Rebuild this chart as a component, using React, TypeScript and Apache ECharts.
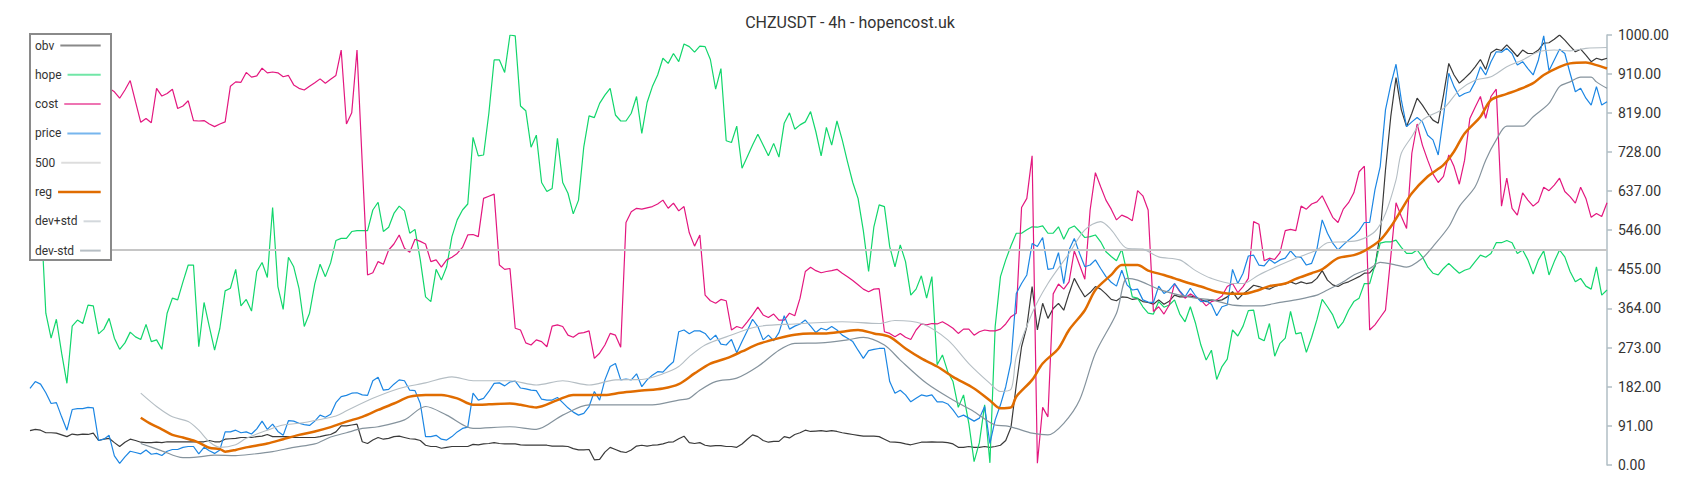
import React, { useEffect, useRef } from "react";
import * as echarts from "echarts";

const TITLE = "CHZUSDT - 4h - hopencost.uk";
const Y_MIN = 0;
const Y_MAX = 1000;
const Y_STEP = 91;
const X_LAST = 299;

const OBV = [
  80, 83, 81, 75, 75, 74, 70, 66, 72, 70,
  72, 71, 74, 57, 60, 62, 52, 43, 53, 60,
  57, 53, 52, 52, 53, 52, 54, 54, 54, 54,
  54, 54, 54, 54, 57, 54, 54, 60, 61, 62,
  64, 64, 64, 66, 67, 71, 66, 66, 66, 66,
  64, 64, 64, 64, 64, 66, 69, 71, 77, 91,
  91, 93, 95, 54, 50, 58, 64, 60, 62, 66,
  67, 64, 61, 60, 57, 46, 43, 43, 39, 41,
  43, 43, 43, 43, 48, 47, 49, 50, 52, 50,
  49, 49, 49, 47, 46, 46, 46, 46, 46, 44,
  44, 44, 43, 38, 35, 35, 36, 12, 13, 30,
  41, 36, 31, 29, 35, 44, 46, 44, 46, 47,
  49, 53, 54, 61, 67, 52, 50, 52, 46, 44,
  45, 45, 43, 43, 41, 49, 60, 70, 66, 57,
  53, 55, 55, 66, 63, 71, 75, 81, 78, 79,
  80, 78, 80, 78, 75, 73, 71, 69, 67, 67,
  67, 66, 60, 54, 53, 52, 49, 47, 50, 53,
  53, 54, 53, 53, 52, 49, 41, 41, 43, 41,
  41, 43, 41, 43, 46, 57, 88, 186, 275, 322,
  415, 314, 376, 341, 364, 376, 360, 399, 434, 411,
  391, 401, 415, 409, 398, 385, 382, 391, 390, 385,
  387, 380, 378, 374, 384, 374, 381, 395, 391, 391,
  393, 390, 385, 380, 384, 382, 384, 391, 403, 385,
  398, 407, 418, 415, 411, 409, 415, 419, 421, 426,
  421, 426, 422, 424, 434, 452, 430, 419, 415, 422,
  426, 432, 438, 446, 447, 461, 539, 686, 810, 901,
  826, 787, 818, 853, 837, 818, 802, 795, 860, 934,
  907, 888, 899, 911, 926, 943, 920, 959, 967, 964,
  977, 964, 950, 965, 957, 957, 965, 981, 982, 990,
  1000, 988, 974, 961, 967, 953, 938, 946, 942, 946,
];

const HOPE = [
  540, 580, 600, 353, 295, 339, 260, 190, 323, 337,
  329, 372, 370, 305, 316, 341, 295, 269, 284, 309,
  298, 292, 327, 287, 291, 269, 353, 388, 384, 426,
  465, 465, 275, 378, 322, 267, 318, 405, 411, 455,
  370, 385, 358, 450, 471, 436, 599, 415, 362, 483,
  461, 411, 322, 353, 422, 467, 438, 470, 522, 527,
  527, 543, 545, 545, 545, 593, 611, 543, 553, 585,
  602, 591, 539, 548, 477, 391, 380, 455, 430, 461,
  531, 570, 593, 607, 762, 719, 721, 818, 942, 942,
  913, 1000, 998, 835, 824, 739, 767, 657, 636, 643,
  760, 657, 632, 584, 616, 740, 812, 808, 841, 860,
  876, 814, 800, 800, 818, 857, 771, 843, 880, 907,
  946, 934, 957, 938, 979, 973, 960, 974, 973, 943,
  874, 922, 754, 750, 788, 690, 717, 744, 769, 744,
  719, 748, 716, 795, 819, 781, 791, 798, 822, 775,
  719, 785, 744, 800, 756, 705, 657, 620, 545, 450,
  554, 605, 601, 508, 461, 512, 473, 395, 409, 440,
  388, 438, 233, 256, 217, 194, 134, 163, 97, 8,
  52, 140, 5, 322, 438, 477, 510, 539, 539, 547,
  554, 553, 556, 539, 539, 554, 525, 550, 556, 543,
  529, 531, 535, 519, 496, 485, 475, 502, 446, 391,
  388, 368, 353, 351, 380, 367, 372, 384, 351, 333,
  368, 329, 279, 244, 267, 199, 229, 246, 314, 300,
  323, 359, 360, 295, 289, 329, 253, 283, 295, 357,
  305, 308, 262, 297, 338, 385, 368, 349, 318, 333,
  360, 380, 388, 422, 422, 465, 516, 519, 519, 523,
  506, 492, 492, 500, 484, 461, 446, 442, 457, 469,
  457, 446, 453, 457, 473, 488, 483, 492, 517, 517,
  522, 517, 492, 500, 477, 444, 477, 498, 442, 473,
  500, 484, 450, 426, 434, 416, 409, 461, 395, 407,
];

const COST = [
  860, 872, 880, 890, 875, 865, 880, 895, 885, 878,
  870, 882, 890, 884, 880, 876, 868, 853, 872, 894,
  845, 797, 806, 796, 876, 858, 864, 874, 829, 835,
  847, 801, 800, 801, 793, 787, 793, 798, 881, 891,
  890, 913, 902, 905, 923, 912, 914, 912, 903, 906,
  884, 876, 872, 881, 889, 898, 888, 897, 906, 965,
  793, 819, 965, 700, 442, 447, 473, 467, 500, 514,
  535, 504, 495, 525, 520, 514, 473, 477, 460, 477,
  483, 492, 506, 535, 536, 531, 620, 625, 630, 465,
  455, 457, 318, 314, 284, 279, 291, 287, 275, 323,
  326, 322, 302, 297, 306, 308, 312, 248, 260, 279,
  306, 302, 274, 564, 589, 597, 595, 598, 601, 607,
  616, 597, 609, 591, 601, 540, 509, 535, 395, 382,
  376, 385, 382, 314, 322, 318, 333, 349, 367, 349,
  343, 351, 337, 337, 353, 347, 388, 450, 460, 452,
  447, 450, 452, 455, 446, 438, 429, 419, 409, 403,
  409, 410, 310, 306, 298, 306, 297, 292, 314, 328,
  326, 329, 328, 333, 326, 318, 306, 316, 316, 302,
  310, 314, 312, 312, 316, 328, 345, 353, 599, 620,
  719, 4, 134, 112, 398, 421, 409, 426, 498, 465,
  432, 593, 680, 647, 616, 595, 570, 581, 576, 568,
  638, 626, 593, 357, 368, 351, 372, 422, 403, 388,
  398, 390, 384, 370, 380, 384, 393, 415, 422, 401,
  415, 434, 566, 560, 475, 481, 478, 494, 545, 548,
  545, 602, 595, 607, 612, 626, 601, 576, 564, 595,
  610, 633, 682, 695, 314, 326, 343, 360, 484, 610,
  578, 550, 725, 793, 744, 709, 677, 657, 671, 721,
  694, 653, 709, 806, 832, 857, 806, 857, 874, 602,
  667, 597, 581, 633, 616, 602, 612, 646, 638, 651,
  667, 636, 624, 609, 646, 620, 576, 585, 578, 610,
];

const PRICE = [
  178, 194, 188, 168, 143, 145, 112, 81, 129, 131,
  131, 134, 133, 57, 60, 69, 21, 4, 19, 32,
  29, 26, 35, 25, 27, 22, 32, 36, 36, 41,
  43, 43, 26, 41, 33, 27, 35, 77, 77, 81,
  75, 77, 72, 84, 102, 83, 95, 78, 69, 103,
  102, 97, 94, 92, 102, 116, 111, 118, 145, 159,
  162, 167, 168, 163, 162, 196, 204, 174, 176, 188,
  198, 196, 174, 173, 143, 66, 66, 69, 60, 58,
  66, 77, 85, 88, 167, 151, 155, 171, 190, 191,
  184, 193, 195, 179, 177, 174, 173, 153, 151, 151,
  157, 145, 133, 123, 116, 120, 136, 171, 151, 198,
  229, 236, 198, 200, 198, 212, 182, 198, 209, 217,
  216, 229, 240, 310, 314, 305, 312, 312, 306, 291,
  302, 281, 279, 292, 261, 287, 312, 339, 322, 291,
  302, 289, 308, 347, 316, 323, 328, 337, 323, 308,
  318, 314, 322, 314, 302, 295, 287, 267, 248, 266,
  269, 271, 271, 194, 167, 174, 163, 147, 155, 163,
  160, 163, 147, 147, 142, 128, 111, 116, 109, 102,
  109, 136, 50, 105, 140, 182, 240, 399, 422, 442,
  515, 508, 529, 455, 457, 494, 422, 500, 527, 492,
  461, 465, 477, 457, 438, 425, 416, 453, 419, 407,
  409, 384, 379, 378, 416, 399, 407, 422, 405, 391,
  411, 393, 380, 382, 374, 347, 368, 372, 455, 422,
  446, 486, 488, 465, 463, 478, 469, 477, 481, 498,
  484, 483, 465, 469, 502, 570, 539, 516, 500, 512,
  523, 533, 545, 564, 564, 640, 694, 826, 884, 932,
  849, 787, 798, 808, 798, 767, 756, 721, 810, 911,
  880, 857, 864, 868, 891, 926, 907, 938, 961, 960,
  969, 957, 930, 938, 922, 907, 942, 998, 917, 942,
  967, 957, 911, 868, 876, 853, 837, 880, 837, 845,
];

const LEVEL_500 = 500;

// [bar index, value] readings of the smooth regression line and its bands
const REG = [
  [21, 110], [23, 95], [25, 83], [27, 70], [29, 64], [31, 57], [32, 52], [34, 40], [36, 37], [37, 31],
  [39, 35], [41, 41], [45, 50], [48, 60], [51, 70], [54, 78], [57, 88], [60, 101], [63, 112], [66, 128],
  [69, 143], [72, 159], [75, 163], [78, 163], [81, 155], [84, 140], [87, 141], [91, 143], [93, 140], [96, 134],
  [100, 151], [103, 163], [107, 163], [109, 163], [112, 168], [116, 173], [120, 178], [123, 188], [126, 213], [129, 236],
  [132, 248], [135, 264], [138, 281], [142, 295], [145, 303], [148, 306], [151, 306], [154, 310], [157, 314], [160, 306],
  [163, 298], [166, 271], [169, 248], [172, 229], [175, 205], [179, 178], [182, 150], [184, 132], [186, 134], [187, 159],
  [190, 198], [192, 236], [195, 271], [197, 314], [200, 360], [202, 407], [205, 442], [207, 465], [210, 465], [212, 452],
  [215, 442], [217, 434], [220, 422], [222, 415], [225, 403], [227, 399], [230, 398], [233, 407], [235, 416], [238, 422],
  [240, 433], [243, 446], [245, 455], [248, 481], [251, 488], [253, 498], [256, 523], [258, 554], [260, 593], [262, 632],
  [265, 671], [268, 698], [270, 729], [272, 771], [275, 810], [277, 849], [280, 863], [282, 872], [285, 888], [287, 907],
  [290, 926], [292, 934], [295, 936], [297, 930], [299, 922],
];

const DEV_PLUS = [
  [21, 167], [24, 136], [27, 112], [30, 101], [32, 81], [34, 54], [36, 41], [39, 47], [41, 62], [45, 81],
  [48, 93], [51, 97], [55, 106], [58, 114], [60, 126], [65, 155], [70, 178], [75, 191], [80, 205], [84, 196],
  [91, 196], [96, 186], [101, 196], [106, 186], [111, 198], [116, 199], [120, 212], [123, 229], [125, 252], [128, 279],
  [132, 298], [138, 322], [145, 328], [154, 333], [161, 329], [164, 336], [169, 329], [174, 291], [178, 236], [182, 190],
  [184, 171], [186, 176], [187, 252], [190, 353], [193, 422], [197, 492], [200, 547], [203, 566], [205, 547], [208, 504],
  [211, 502], [214, 484], [218, 477], [221, 452], [224, 434], [228, 422], [230, 422], [233, 442], [237, 465], [240, 481],
  [244, 500], [246, 517], [249, 519], [252, 523], [255, 543], [257, 585], [259, 663], [260, 725], [262, 764], [264, 802],
  [268, 829], [271, 872], [274, 895], [277, 903], [280, 926], [283, 942], [286, 961], [289, 965], [292, 963], [295, 969],
  [299, 971],
];

const DEV_MINUS = [
  [21, 50], [25, 33], [29, 17], [32, 19], [35, 23], [39, 22], [42, 25], [46, 31], [50, 41], [54, 49],
  [57, 65], [60, 75], [63, 85], [66, 89], [71, 105], [75, 136], [79, 116], [84, 85], [91, 89], [96, 83],
  [101, 116], [106, 140], [113, 140], [118, 140], [123, 151], [125, 155], [127, 174], [130, 194], [134, 202], [138, 229],
  [142, 267], [145, 283], [150, 284], [155, 291], [158, 297], [162, 279], [165, 244], [170, 190], [175, 151], [179, 124],
  [183, 93], [185, 91], [187, 85], [190, 74], [193, 70], [196, 97], [199, 151], [202, 260], [206, 353], [208, 434],
  [210, 430], [214, 409], [218, 395], [221, 388], [224, 384], [228, 372], [233, 370], [237, 378], [240, 384], [244, 395],
  [246, 407], [249, 426], [251, 442], [254, 457], [256, 471], [259, 465], [261, 460], [264, 481], [266, 508], [269, 554],
  [271, 601], [274, 647], [276, 709], [278, 756], [280, 788], [283, 788], [285, 810], [288, 841], [290, 880], [292, 891],
  [294, 902], [296, 902], [297, 891], [299, 876],
];

const NAMES = ["obv", "hope", "cost", "price", "500", "reg", "dev+std", "dev-std"];
const COLORS = ["#3a3a3a", "#12d66c", "#e3177f", "#1c86e3", "#c6c6c6", "#e06c00", "#b5bec4", "#85939d"];
const WIDTHS = [1.2, 1.2, 1.2, 1.2, 1.8, 2.5, 1.1, 1.2];

const FONT = "Roboto, 'Noto Sans', sans-serif";

function measure(text: string, font: string): number {
  const c = document.createElement("canvas").getContext("2d");
  if (!c) return text.length * 6.5;
  c.font = font;
  return c.measureText(text).width;
}

export default function App() {
  const ref = useRef<HTMLDivElement | null>(null);

  useEffect(() => {
    if (!ref.current) return;
    const chart = echarts.init(ref.current, undefined, { renderer: "svg" });

    const toPairs = (arr: number[]) => arr.map((v, i) => [i, v]);
    const datasets: any[] = [
      toPairs(OBV),
      toPairs(HOPE),
      toPairs(COST),
      toPairs(PRICE),
      [[0, LEVEL_500], [X_LAST, LEVEL_500]],
      REG,
      DEV_PLUS,
      DEV_MINUS,
    ];

    const series = NAMES.map((name, k) => ({
      name,
      type: "line",
      data: datasets[k],
      showSymbol: false,
      symbol: "none",
      silent: true,
      smooth: k >= 5 ? 0.3 : false,
      lineStyle: { color: COLORS[k], width: WIDTHS[k] },
      itemStyle: { color: COLORS[k] },
      z: 2 + k,
    }));

    // legend box drawn as graphics
    const legendFont = `12px ${FONT}`;
    const boxW = 81;
    const boxH = 226;
    const iconEnd = 70.7;
    const children: any[] = [
      {
        type: "rect",
        z: 100,
        shape: { x: 0, y: 0, width: boxW, height: boxH },
        style: { fill: "#ffffff", stroke: "#8a8a8a", lineWidth: 2 },
      },
    ];
    NAMES.forEach((name, k) => {
      const cy = 11.5 + 29.3 * k;
      const tw = measure(name, "12px Roboto");
      children.push({
        type: "text",
        z: 101,
        x: 5,
        y: cy,
        style: {
          text: name,
          fill: "#333333",
          font: legendFont,
          verticalAlign: "middle",
          textVerticalAlign: "middle",
        },
      });
      children.push({
        type: "line",
        z: 101,
        shape: { x1: 5 + tw + 6, y1: cy, x2: iconEnd, y2: cy },
        style: {
          stroke: COLORS[k],
          lineWidth: k === 5 ? 2.5 : 2,
          opacity: k === 5 ? 1 : 0.6,
        },
      });
    });

    chart.setOption({
      animation: false,
      backgroundColor: "#ffffff",
      title: {
        text: TITLE,
        left: "center",
        top: 9,
        textStyle: { fontFamily: FONT, fontSize: 16, fontWeight: "normal", color: "#333333" },
      },
      grid: { left: 30, right: 93, top: 35, bottom: 35, containLabel: false },
      xAxis: {
        type: "value",
        min: 0,
        max: X_LAST,
        show: false,
        axisLine: { show: false, onZero: false },
        axisTick: { show: false },
        axisLabel: { show: false },
        splitLine: { show: false },
      },
      yAxis: {
        type: "value",
        position: "right",
        min: Y_MIN,
        max: Y_MAX,
        interval: Y_STEP,
        splitLine: { show: false },
        axisLine: { show: true, onZero: false, lineStyle: { color: "#b0bec5", width: 1.5 } },
        axisTick: { show: true, length: 5, lineStyle: { color: "#b0bec5", width: 1.5 } },
        axisLabel: {
          margin: 11,
          color: "#333333",
          fontFamily: FONT,
          fontSize: 14,
          formatter: (v: number) => v.toFixed(2),
        },
      },
      series,
      graphic: [{ type: "group", x: 30, y: 34, z: 100, children }],
    });

    return () => chart.dispose();
  }, []);

  return (
    <div
      ref={ref}
      style={{ position: "fixed", left: 0, top: 0, width: 1700, height: 500, background: "#fff" }}
    />
  );
}
